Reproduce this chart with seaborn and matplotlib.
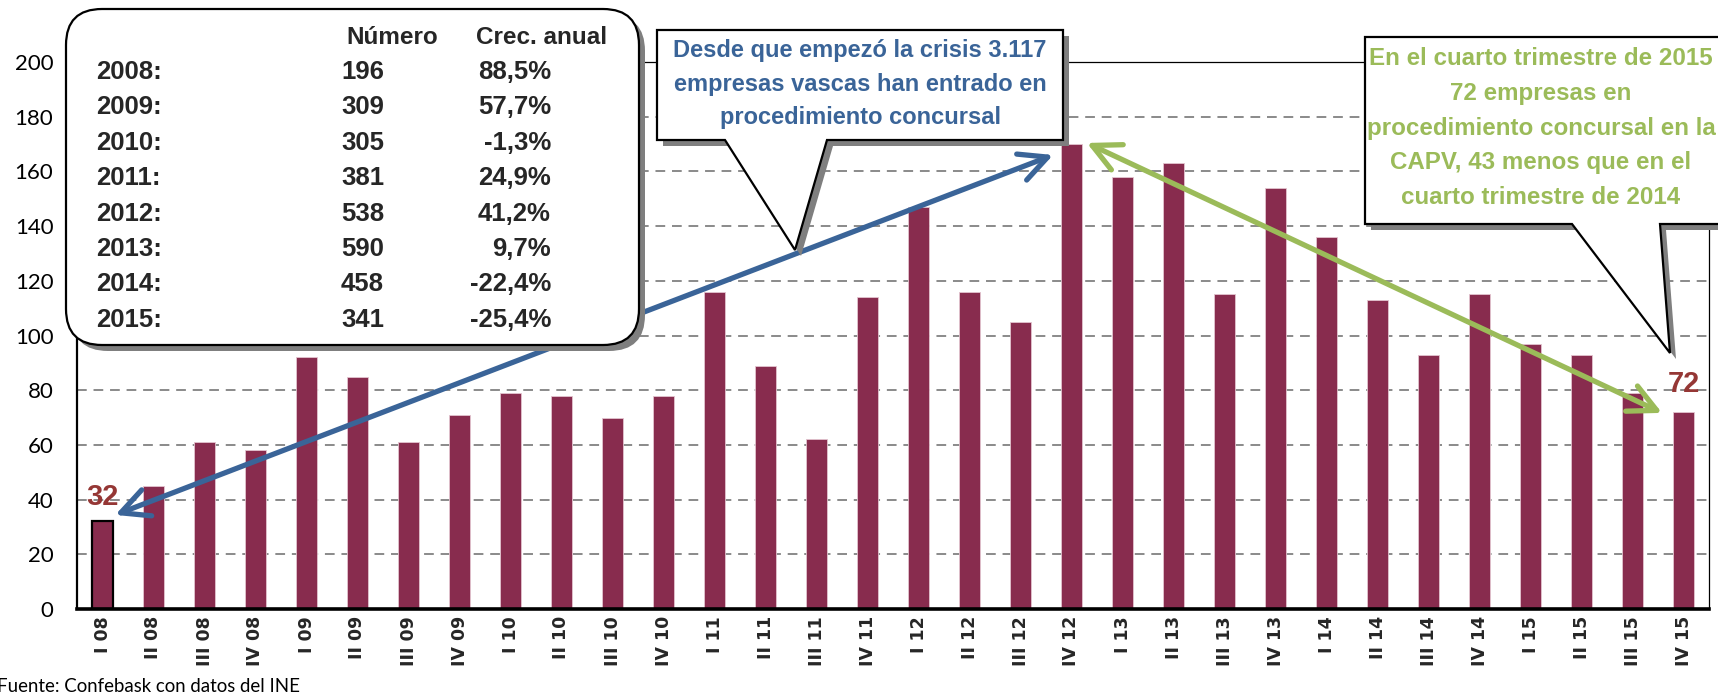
import matplotlib
matplotlib.use("Agg")
import matplotlib.pyplot as plt
import seaborn as sns
import pandas as pd
from matplotlib.patches import Polygon, FancyBboxPatch

# ---------------- data ----------------
quarters = ["I 08", "II 08", "III 08", "IV 08",
            "I 09", "II 09", "III 09", "IV 09",
            "I 10", "II 10", "III 10", "IV 10",
            "I 11", "II 11", "III 11", "IV 11",
            "I 12", "II 12", "III 12", "IV 12",
            "I 13", "II 13", "III 13", "IV 13",
            "I 14", "II 14", "III 14", "IV 14",
            "I 15", "II 15", "III 15", "IV 15"]
values = [32, 45, 61, 58,
          92, 85, 61, 71,
          79, 78, 70, 78,
          116, 89, 62, 114,
          147, 116, 105, 170,
          158, 163, 115, 154,
          136, 113, 93, 115,
          97, 93, 79, 72]
y_ticks = [0, 20, 40, 60, 80, 100, 120, 140, 160, 180, 200]

table_years = ["2008:", "2009:", "2010:", "2011:", "2012:", "2013:", "2014:", "2015:"]
table_numero = ["196", "309", "305", "381", "538", "590", "458", "341"]
table_crec = ["88,5%", "57,7%", "-1,3%", "24,9%", "41,2%", "9,7%", "-22,4%", "-25,4%"]
table_headers = ["Número", "Crec. anual"]

blue_text = "Desde que empezó la crisis 3.117\nempresas vascas han entrado en\nprocedimiento concursal"
green_text = ("En el cuarto trimestre de 2015\n72 empresas en\nprocedimiento concursal en la\n"
              "CAPV, 43 menos que en el\ncuarto trimestre de 2014")
source_text = "Fuente: Confebask con datos del INE"

# ---------------- style ----------------
W, H = 1718, 697
BAR = "#882C4E"
BLUE = "#3A6498"
GREEN = "#9BBB59"
RED = "#953735"
GRID = "#8A8A8A"
NARROW = ["Liberation Sans Narrow", "Liberation Sans", "DejaVu Sans"]

sns.set_theme(style="white")
plt.rcParams["font.family"] = ["Lato", "DejaVu Sans"]

fig = plt.figure(figsize=(W / 100, H / 100), dpi=100)
fig.patch.set_facecolor("white")
ax = fig.add_axes([77 / W, 1 - 609 / H, (1709 - 77) / W, (609 - 62) / H])

df = pd.DataFrame({"q": quarters, "n": values})
sns.barplot(data=df, x="q", y="n", color=BAR, saturation=1, width=0.41,
            ax=ax, zorder=2, edgecolor="#E3C4CF", linewidth=0.6)
ax.patches[0].set_edgecolor("black")
ax.patches[0].set_linewidth(1.6)

ax.set_xlim(-0.5, len(quarters) - 0.5)
ax.set_ylim(0, 200)
ax.set_yticks(y_ticks)
ax.set_yticklabels([str(t) for t in y_ticks])
ax.set_xlabel("")
ax.set_ylabel("")
ax.set_axisbelow(True)
ax.yaxis.grid(True, linestyle=(0, (5, 3.5)), color=GRID, linewidth=1.4)
ax.xaxis.grid(False)

for s in ["top", "right"]:
    ax.spines[s].set_linewidth(0.9)
    ax.spines[s].set_color("black")
ax.spines["left"].set_linewidth(1.6)
ax.spines["left"].set_color("black")
ax.spines["bottom"].set_linewidth(2.6)
ax.spines["bottom"].set_color("black")

ax.tick_params(axis="y", length=0, pad=17, labelsize=16, labelcolor="black")
ax.tick_params(axis="x", length=0, pad=5)
for lab in ax.get_xticklabels():
    lab.set_rotation(90)
    lab.set_fontfamily("DejaVu Sans")
    lab.set_fontweight("bold")
    lab.set_fontsize(12.5)
    lab.set_va("top")
    lab.set_ha("center")

# arrows derived from data
imax = max(range(len(values)), key=lambda i: values[i])
last = len(values) - 1
ax.annotate("", xy=(0.25, values[0] + 2.4), xytext=(imax - 0.36, values[imax] - 4),
            arrowprops=dict(arrowstyle="<->,head_length=1.0,head_width=0.5",
                            color=BLUE, lw=3.8, shrinkA=0, shrinkB=0,
                            mutation_scale=20), zorder=4)
ax.annotate("", xy=(imax + 0.3, values[imax] + 0.4), xytext=(last - 0.42, values[last] - 0.3),
            arrowprops=dict(arrowstyle="<->,head_length=1.0,head_width=0.5",
                            color=GREEN, lw=3.8, shrinkA=0, shrinkB=0,
                            mutation_scale=20), zorder=4)

LBL = ["Liberation Sans", "DejaVu Sans"]
ax.text(0, values[0] + 8.8, str(values[0]), ha="center", va="center",
        color=RED, fontsize=21, fontweight="bold", family=LBL)
ax.text(last, values[last] + 10.4, str(values[last]), ha="center", va="center",
        color=RED, fontsize=21, fontweight="bold", family=LBL)

# ---------------- overlay for callouts ----------------
ov = fig.add_axes([0, 0, 1, 1], zorder=5)
ov.set_xlim(0, W)
ov.set_ylim(H, 0)
ov.axis("off")
ov.patch.set_alpha(0)

SH = "#7F7F7F"
# table box
ov.add_patch(FancyBboxPatch((72, 15), 573, 336, boxstyle="round,pad=0,rounding_size=36",
                            fc=SH, ec="none"))
ov.add_patch(FancyBboxPatch((66, 9), 573, 336, boxstyle="round,pad=0,rounding_size=36",
                            fc="white", ec="black", lw=1.6))
ov.text(392, 37, table_headers[0], ha="center", va="center", fontsize=17.5,
        fontweight="bold", family=NARROW)
ov.text(542, 37, table_headers[1], ha="center", va="center", fontsize=17.5,
        fontweight="bold", family=NARROW)
row_y0, row_dy = 72, 35.4
for i, (yr, nm, cr) in enumerate(zip(table_years, table_numero, table_crec)):
    yy = row_y0 + i * row_dy
    ov.text(96, yy, yr, ha="left", va="center", fontsize=18.5, fontweight="bold", family=NARROW)
    ov.text(341, yy, nm, ha="left", va="center", fontsize=18.5, fontweight="bold", family=NARROW)
    ov.text(551, yy, cr, ha="right", va="center", fontsize=18.5, fontweight="bold", family=NARROW)

# blue callout
blue_poly = [(657, 30), (1063, 30), (1063, 140), (827, 140), (795, 250), (725, 140), (657, 140)]
ov.add_patch(Polygon([(x + 6, y + 6) for x, y in blue_poly], closed=True, fc=SH, ec="none"))
ov.add_patch(Polygon(blue_poly, closed=True, fc="white", ec="black", lw=1.6))
ov.text(860, 84, blue_text, ha="center", va="center", fontsize=17, fontweight="bold",
        color=BLUE, family=NARROW, linespacing=1.6)

# green callout
green_poly = [(1365, 37), (1780, 37), (1780, 224), (1660, 224), (1670, 353), (1572, 224), (1365, 224)]
ov.add_patch(Polygon([(x + 6, y + 6) for x, y in green_poly], closed=True, fc=SH, ec="none"))
ov.add_patch(Polygon(green_poly, closed=True, fc="white", ec="black", lw=1.6))
ov.text(1541, 128, green_text, ha="center", va="center", fontsize=17.4, fontweight="bold",
        color=GREEN, family=NARROW, linespacing=1.66)

# source
ov.text(-3, 687, source_text, ha="left", va="center", fontsize=13.4, color="black")

fig.savefig("out.png", dpi=100, facecolor="white")
